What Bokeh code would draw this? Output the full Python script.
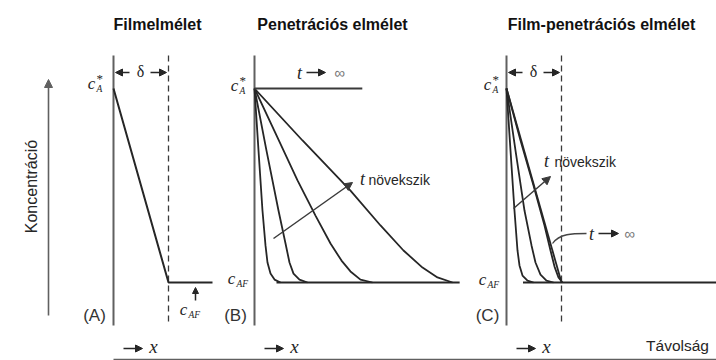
from bokeh.plotting import figure
from bokeh.models import Range1d, Label, Arrow, NormalHead
from bokeh.embed import file_html
from bokeh.resources import INLINE

W, H = 716, 360

# ---------------------------------------------------------------------------
# Concentration profiles.
# distance is measured in film thicknesses (delta) from the interface,
# concentration is scaled so that c_AF = 0 and c_A* = 1.
# ---------------------------------------------------------------------------

# (A) film theory: linear drop across the stagnant film, bulk beyond it
film_x = [0.0, 1.0, 1.8]
film_c = [1.0, 0.0, 0.0]

# (B) penetration theory: profiles for increasing contact time t
pen_x = [
    [0.0, 0.073, 0.145, 0.200, 0.236, 0.291, 0.364, 0.473],
    [0.0, 0.218, 0.436, 0.564, 0.636, 0.709, 0.818, 0.964],
    [0.0, 0.400, 0.782, 1.109, 1.382, 1.582, 1.745, 1.927, 2.145],
    [0.0, 0.873, 1.745, 2.291, 2.709, 3.055, 3.327, 3.600],
]
pen_c = [
    [1.0, 0.680, 0.371, 0.191, 0.103, 0.046, 0.015, 0.0],
    [1.0, 0.680, 0.371, 0.201, 0.103, 0.046, 0.015, 0.0],
    [1.0, 0.758, 0.526, 0.345, 0.201, 0.113, 0.057, 0.015, 0.0],
    [1.0, 0.732, 0.474, 0.294, 0.165, 0.077, 0.026, 0.0],
]
pen_steady_x = [0.0, 1.96]      # t -> infinity: saturated everywhere
pen_steady_c = [1.0, 1.0]
pen_bulk_x = [0.40, 3.73]
pen_bulk_c = [0.0, 0.0]

# (C) film-penetration theory: profiles approach the linear film profile
fp_x = [
    [0.0, 0.073, 0.145, 0.200, 0.236, 0.291, 0.382, 0.491],
    [0.0, 0.164, 0.327, 0.455, 0.527, 0.618, 0.727, 0.855],
    [0.0, 0.255, 0.491, 0.691, 0.800, 0.873, 0.945, 1.018],
    [0.0, 1.0],
]
fp_c = [
    [1.0, 0.680, 0.371, 0.165, 0.088, 0.036, 0.010, 0.0],
    [1.0, 0.680, 0.371, 0.191, 0.103, 0.041, 0.010, 0.0],
    [1.0, 0.732, 0.500, 0.294, 0.165, 0.082, 0.026, 0.0],
    [1.0, 0.0],
]
fp_bulk_x = [0.30, 3.82]
fp_bulk_c = [0.0, 0.0]

titles = ["Filmelmélet", "Penetrációs elmélet", "Film-penetrációs elmélet"]
tags = ["(A)", "(B)", "(C)"]

# ---------------------------------------------------------------------------
# Screen geometry
# ---------------------------------------------------------------------------
AXIS_X = {"A": 113, "B": 254, "C": 506}   # interface position of each panel
DELTA_PX = 55                             # screen length of one delta
Y_TOP = 88                                # screen row of c_A*
Y_BASE = 282                              # screen row of c_AF
AXIS_TOP, AXIS_BOT = 55, 325

INK = "#262626"
GREY = "#606060"
SERIF = "Liberation Serif"
SANS = "Liberation Sans"

p = figure(width=W, height=H, x_range=Range1d(0, W), y_range=Range1d(H, 0),
           output_backend="svg", toolbar_location=None, min_border=0,
           x_axis_type=None, y_axis_type=None, outline_line_color=None,
           background_fill_color="white", border_fill_color="white")

span = Y_BASE - Y_TOP
p.extra_y_ranges = {"conc": Range1d((Y_BASE - H) / span, Y_BASE / span)}
p.extra_x_ranges = {"d" + k: Range1d(-ax / DELTA_PX, (W - ax) / DELTA_PX)
                    for k, ax in AXIS_X.items()}


def label(x, y, text, size, font=SANS, style="normal", color=INK,
          align="center", angle=0):
    p.add_layout(Label(x=x, y=y, text=text, text_font=font,
                       text_font_size=f"{size}px", text_font_style=style,
                       text_color=color, text_align=align,
                       text_baseline="middle", angle=angle, angle_units="deg"))


def arrow(x0, y0, x1, y1, size=7, width=1.5, color=INK):
    p.add_layout(Arrow(end=NormalHead(size=size, fill_color=color,
                                      line_color=color, line_width=1),
                       x_start=x0, y_start=y0, x_end=x1, y_end=y1,
                       line_color=color, line_width=width))


def conc_label(x, y, sub, star):
    # italic c with subscript (and optional superscript star)
    label(x, y, "c", 17, font=SERIF, style="italic")
    label(x + 5, y + 5, sub, 9.5, font=SERIF, style="italic", align="left")
    if star:
        label(x + 5, y - 5, "*", 13, font=SERIF, align="left")


# ---- overall axes: concentration (up) and distance (right) ----
arrow(48, 315, 48, 79, size=8, width=1.6, color=GREY)
label(31, 186, "Koncentráció", 16, angle=90)
p.segment(x0=[AXIS_X["A"]], y0=[359], x1=[W], y1=[359],
          line_color=GREY, line_width=1.6)
label(677, 345, "Távolság", 15.5)

# ---- panel frames ----
for k, title, tag, tx in zip("ABC", titles, tags, [157, 332, 601]):
    ax = AXIS_X[k]
    p.segment(x0=[ax], y0=[AXIS_TOP], x1=[ax], y1=[AXIS_BOT],
              line_color=GREY, line_width=2)
    label(tx, 24, title, 16, style="bold", color="#111")
    label(ax - 19, 315, tag, 17, color="#333")
    arrow(ax + 10, 348, ax + 29, 348, size=7, width=1.6)
    label(ax + 40, 346, "x", 19, font=SERIF, style="italic")

# film boundaries (dashed) and delta markers
for k in ("A", "C"):
    ax = AXIS_X[k]
    xd = ax + DELTA_PX
    p.segment(x0=[xd], y0=[AXIS_TOP], x1=[xd], y1=[AXIS_BOT],
              line_color="#3a3a3a", line_width=1.3, line_dash="6 4")
    arrow(ax + 16, 72, ax + 2, 72, size=7, width=1.5)
    arrow(ax + 37, 72, ax + 53, 72, size=7, width=1.5)
    label(ax + 27, 71, "δ", 16, font=SERIF)

# ---- (A) film theory ----
p.line(film_x, film_c, x_range_name="dA", y_range_name="conc",
       line_color=INK, line_width=2)
conc_label(91, 83, "A", True)
arrow(195, 300, 195, 287, size=6, width=1.5)
conc_label(183, 309, "AF", False)

# ---- (B) penetration theory ----
p.multi_line(pen_x, pen_c, x_range_name="dB", y_range_name="conc",
             line_color=INK, line_width=1.8)
p.line(pen_steady_x, pen_steady_c, x_range_name="dB", y_range_name="conc",
       line_color="#3a3a3a", line_width=1.8)
p.line(pen_bulk_x, pen_bulk_c, x_range_name="dB", y_range_name="conc",
       line_color=INK, line_width=1.8)
conc_label(234, 85, "A", True)
conc_label(231, 278, "AF", False)
label(299, 72, "t", 18, font=SERIF, style="italic")
arrow(306, 72, 325, 72, size=7, width=1.6)
label(339, 72, "∞", 15, color="#777")
arrow(273, 238, 352, 182, size=8, width=1.5, color="#3a3a3a")
label(362, 178, "t", 18, font=SERIF, style="italic")
label(368, 179, "növekszik", 14, align="left")

# ---- (C) film-penetration theory ----
p.multi_line(fp_x, fp_c, x_range_name="dC", y_range_name="conc",
             line_color=INK, line_width=1.8)
p.line(fp_bulk_x, fp_bulk_c, x_range_name="dC", y_range_name="conc",
       line_color=INK, line_width=1.8)
conc_label(487, 84, "A", True)
conc_label(482, 279, "AF", False)
arrow(513, 208, 550, 176, size=8, width=1.5, color="#3a3a3a")
label(546, 160, "t", 18, font=SERIF, style="italic")
label(554, 161, "növekszik", 14, align="left")
p.bezier(x0=[552], y0=[243], x1=[586], y1=[233], cx0=[559], cy0=[233],
         cx1=[572], cy1=[233], line_color="#444", line_width=1.3)
label(591, 233, "t", 18, font=SERIF, style="italic")
arrow(598, 233, 618, 233, size=7, width=1.6)
label(629, 233, "∞", 15, color="#777")

open("out.html", "w").write(file_html(p, INLINE))
